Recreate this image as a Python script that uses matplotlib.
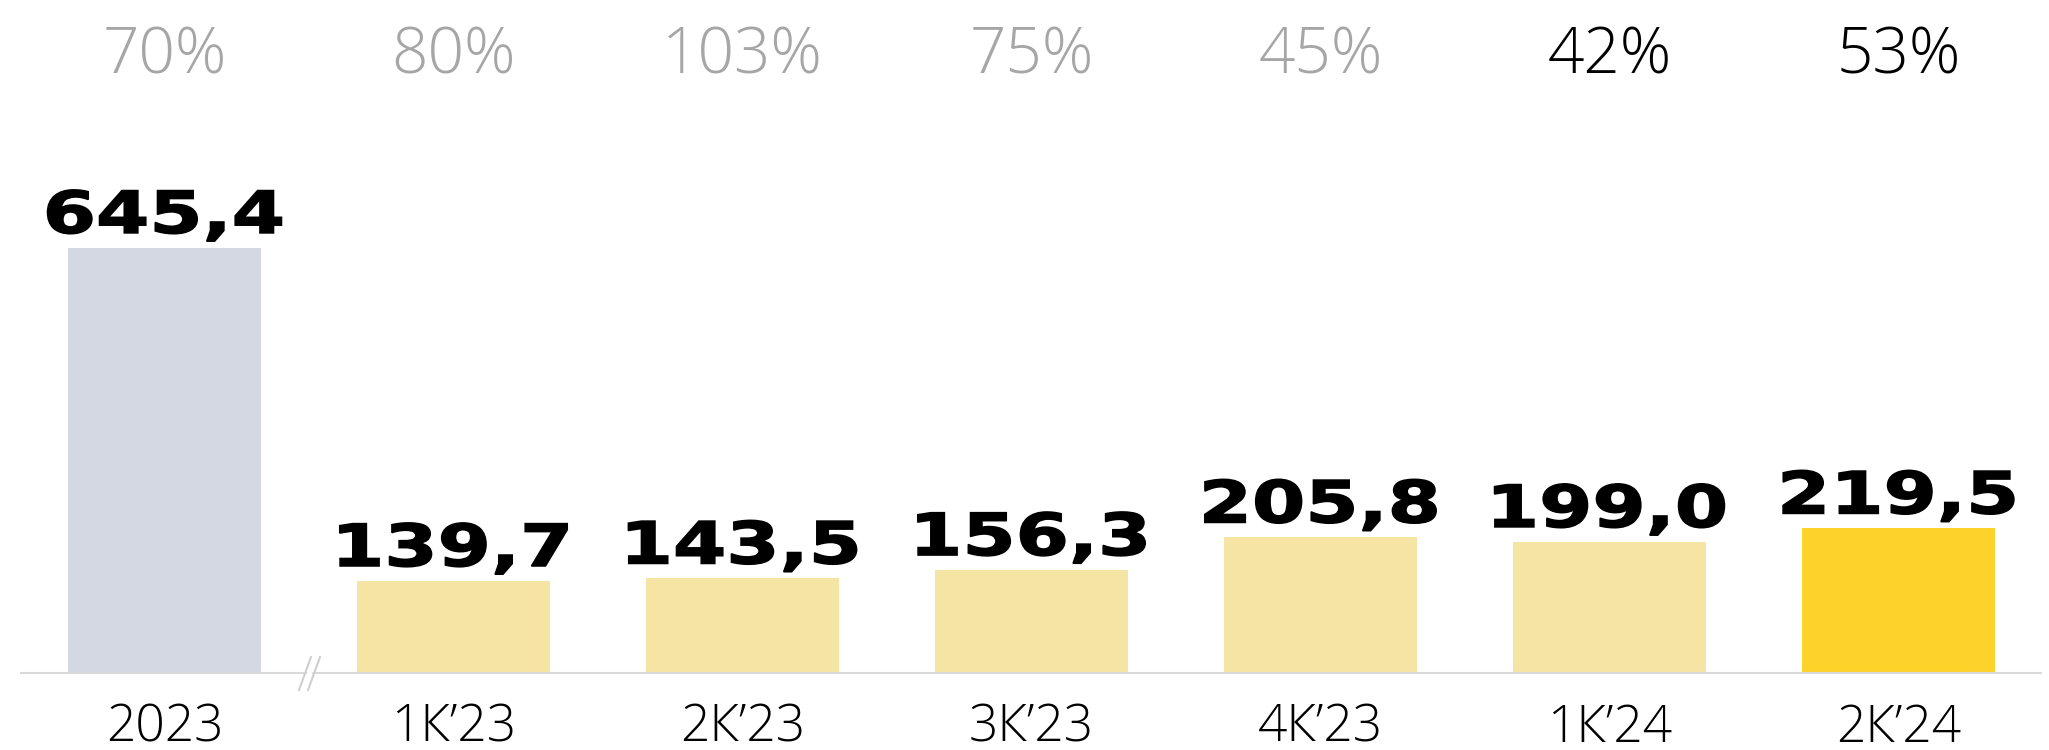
import matplotlib
matplotlib.use("Agg")
import matplotlib.pyplot as plt
from matplotlib.patches import Polygon, PathPatch
from matplotlib.textpath import TextPath
from matplotlib.font_manager import FontProperties
from matplotlib.transforms import Affine2D, ScaledTranslation

categories = ["2023", "1К’23", "2К’23", "3К’23", "4К’23", "1К’24", "2К’24"]
values = [645.4, 139.7, 143.5, 156.3, 205.8, 199.0, 219.5]
value_labels = ["645,4", "139,7", "143,5", "156,3", "205,8", "199,0", "219,5"]
pct_labels = ["70%", "80%", "103%", "75%", "45%", "42%", "53%"]
pct_colors = ["#a6a6a6"] * 5 + ["#000000"] * 2
bar_colors = ["#d3d8e2"] + ["#f6e4a4"] * 5 + ["#fdd32b"]

W, H, DPI = 2049, 750, 100
fig = plt.figure(figsize=(W / DPI, H / DPI), dpi=DPI)
base_px = 673  # from top
ax = fig.add_axes([21 / W, (H - base_px) / H, 2020 / W, base_px / H])

spacing = 289.0
c0 = 164.5
ax.set_xlim((21 - c0) / spacing, (2041 - c0) / spacing)
pxu = 0.6586
ax.set_ylim(0, base_px / pxu)

x = list(range(len(categories)))
ax.bar(x, values, width=193 / spacing, color=bar_colors, zorder=2)

for spine in ["top", "right", "left"]:
    ax.spines[spine].set_visible(False)
ax.spines["bottom"].set_color("#d9d9d9")
ax.spines["bottom"].set_linewidth(1.5)
ax.spines["bottom"].set_zorder(3)
ax.set_yticks([])
ax.set_xticks([])

light = dict(family=["Open Sans", "DejaVu Sans"], fontweight="light")

# wide bold value labels (stretched glyph outlines)
bold_fp = FontProperties(family="DejaVu Sans", weight="bold")
ref_path = TextPath((0, 0), "645,4", size=100, prop=bold_fp)
ref_ext = ref_path.get_extents()
digit_ext = TextPath((0, 0), "0", size=100, prop=bold_fp).get_extents()
sx = 234.0 / ref_ext.width          # pixels per path unit, horizontal
sy = 44.0 / digit_ext.height        # pixels per path unit, vertical
for i, (v, lab) in enumerate(zip(values, value_labels)):
    p = TextPath((0, 0), lab, size=100, prop=bold_fp)
    e = p.get_extents()
    cx = (e.x0 + e.x1) / 2
    tr = (Affine2D().translate(-cx, 0).scale(sx, sy).translate(0, 15)
          + ScaledTranslation(i, v, ax.transData))
    ax.add_patch(PathPatch(p, transform=tr, facecolor="black", edgecolor="black",
                           linewidth=1.1, clip_on=False, zorder=4))

pct_y = (base_px - 74) / pxu
for i, (p, c) in enumerate(zip(pct_labels, pct_colors)):
    ax.text(i, pct_y, p, ha="center", va="baseline", fontsize=46, color=c, **light)

for i, cat in enumerate(categories):
    ax.annotate(cat, (i, 0), xytext=(0, -49.5), textcoords="offset points",
                ha="center", va="baseline", fontsize=37, color="black", **light)

# axis break mark
def d(px, py):
    return ((px - c0) / spacing, (base_px - py) / pxu)

gap = Polygon([d(301, 689), d(313, 658), d(318, 658), d(306, 689)], closed=True,
              facecolor="white", edgecolor="none", zorder=4, clip_on=False)
ax.add_patch(gap)
for x0 in (299, 308):
    (xa, ya), (xb, yb) = d(x0, 690), d(x0 + 12, 657)
    ax.plot([xa, xb], [ya, yb], color="#cfcfcf", lw=1.5, zorder=5, clip_on=False)

fig.savefig("out.png", dpi=DPI, facecolor="white")
